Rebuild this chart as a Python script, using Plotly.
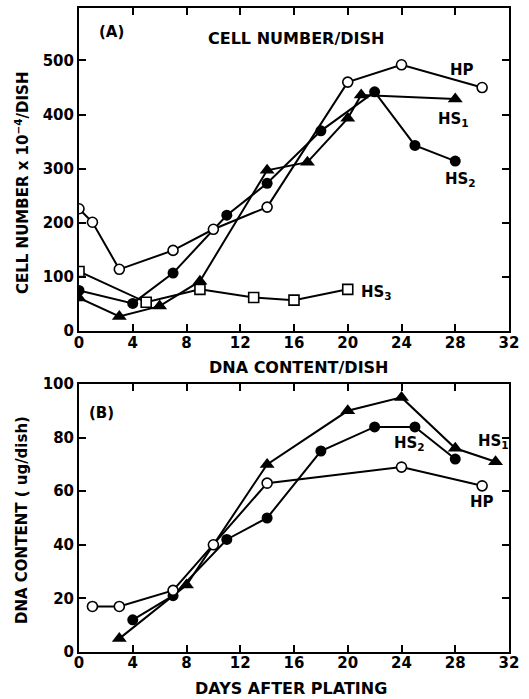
import plotly.graph_objects as go

# Panel A: cell number/dish (x10^-4)
a_hp_x = [0, 1, 3, 7, 10, 14, 20, 24, 30]
a_hp_y = [226, 201, 114, 149, 188, 229, 460, 492, 450]
a_hs1_x = [0, 3, 6, 9, 14, 17, 20, 21, 28]
a_hs1_y = [61, 27, 46, 92, 297, 312, 393, 436, 429]
a_hs2_x = [0, 4, 7, 11, 14, 18, 22, 25, 28]
a_hs2_y = [75, 51, 107, 214, 273, 370, 442, 343, 314]
a_hs3_x = [0, 5, 9, 13, 16, 20]
a_hs3_y = [110, 53, 77, 62, 57, 77]

# Panel B: DNA content (ug/dish)
b_hp_x = [1, 3, 7, 10, 14, 24, 30]
b_hp_y = [17, 17, 23, 40, 63, 69, 62]
b_hs1_x = [3, 8, 14, 20, 24, 28, 31]
b_hs1_y = [5, 25, 70, 90, 95, 76, 71]
b_hs2_x = [4, 7, 11, 14, 18, 22, 25, 28]
b_hs2_y = [12, 21, 42, 50, 75, 84, 84, 72]

x_ticks = [0, 4, 8, 12, 16, 20, 24, 28, 32]
a_y_ticks = [0, 100, 200, 300, 400, 500]
b_y_ticks = [0, 20, 40, 60, 80, 100]

FONT = "DejaVu Sans"
W, H = 529, 699
L, R, T, B = 79, 20, 8, 47
PW, PH = W - L - R, H - T - B


def px(x):
    return (x - L) / PW


def py(y):
    return (H - B - y) / PH


fig = go.Figure()

open_circle = dict(symbol="circle", size=10, color="white", line=dict(color="black", width=1.6))
filled_circle = dict(symbol="circle", size=11, color="black")
triangle = dict(symbol="triangle-up", size=13, color="black")
open_square = dict(symbol="square", size=10, color="white", line=dict(color="black", width=1.6))
line = dict(color="black", width=2)

for xs, ys, mk in [(a_hs3_x, a_hs3_y, open_square), (a_hs1_x, a_hs1_y, triangle),
                   (a_hs2_x, a_hs2_y, filled_circle), (a_hp_x, a_hp_y, open_circle)]:
    fig.add_trace(go.Scatter(x=xs, y=ys, mode="lines+markers", marker=mk, line=line,
                             xaxis="x", yaxis="y", showlegend=False))

for xs, ys, mk in [(b_hs1_x, b_hs1_y, triangle), (b_hs2_x, b_hs2_y, filled_circle),
                   (b_hp_x, b_hp_y, open_circle)]:
    fig.add_trace(go.Scatter(x=xs, y=ys, mode="lines+markers", marker=mk, line=line,
                             xaxis="x2", yaxis="y2", showlegend=False))

tickfont = dict(family=FONT, size=15, color="black", weight="bold")
axis_common = dict(showline=True, linewidth=2, linecolor="black", mirror="ticks",
                   ticks="inside", ticklen=7, tickwidth=2, tickcolor="black",
                   showgrid=False, zeroline=False, tickfont=tickfont, automargin=False)

ya_top = py(8)
ya_bot = py(331)
yb_top = py(384)

fig.update_layout(
    width=W, height=H,
    margin=dict(l=L, r=R, t=T, b=B, autoexpand=False),
    plot_bgcolor="white", paper_bgcolor="white",
    xaxis=dict(range=[0, 32], tickvals=x_ticks, domain=[0, 1], anchor="y",
               ticklabelstandoff=-3, **axis_common),
    yaxis=dict(range=[0, 597], tickvals=a_y_ticks, domain=[ya_bot, ya_top], anchor="x", **axis_common),
    xaxis2=dict(range=[0, 32], tickvals=x_ticks, domain=[0, 1], anchor="y2",
                ticklabelstandoff=-4, **axis_common),
    yaxis2=dict(range=[0, 100], tickvals=b_y_ticks, domain=[0, yb_top], anchor="x2", **axis_common),
)

anns = [
    ("(A)", 111, 32, 0, 15),
    ("CELL NUMBER/DISH", 296, 38, 0, 16),
    ("DNA CONTENT/DISH", 299, 367, 0, 16),
    ("DAYS AFTER PLATING", 291, 688, 0, 16),
    ("(B)", 101, 413, 0, 15),
    ("HP", 462, 70, 0, 15),
    ("HS<sub>1</sub>", 453, 119, 0, 15),
    ("HS<sub>2</sub>", 460, 180, 0, 15),
    ("HS<sub>3</sub>", 376, 292, 0, 15),
    ("HS<sub>2</sub>", 409, 443, 0, 15),
    ("HS<sub>1</sub>", 493, 441, 0, 15),
    ("HP", 482, 502, 0, 15),
    ("CELL NUMBER x 10<sup>\u22124</sup>/DISH", 22, 183, -90, 15),
    ("DNA CONTENT ( ug/dish)", 22, 520, -90, 15),
]
for text, x, y, ang, fs in anns:
    fig.add_annotation(text=text, x=px(x), y=py(y), xref="paper", yref="paper",
                       showarrow=False, textangle=ang,
                       font=dict(family=FONT, size=fs, color="black", weight="bold"),
                       xanchor="center", yanchor="middle")

fig.write_html("out.html", config={"displayModeBar": False},
               post_script="document.body.style.margin='0';document.body.style.overflow='hidden';")
